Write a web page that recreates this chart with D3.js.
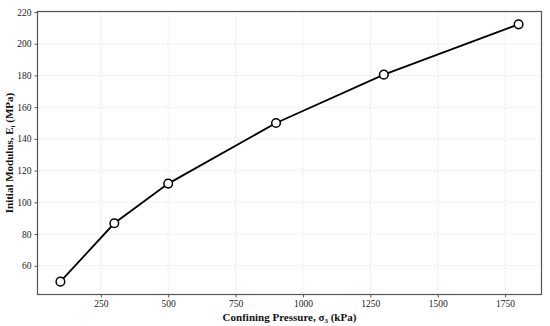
<!DOCTYPE html>
<html>
<head>
<meta charset="utf-8">
<script src="https://cdn.jsdelivr.net/npm/d3@7"></script>
<style>
  html, body { margin: 0; padding: 0; background: #fff; }
  svg { display: block; font-family: "Liberation Serif", "Times New Roman", serif; }
</style>
</head>
<body>
<div id="chart"></div>
<script>
const pressure = [100, 300, 500, 900, 1300, 1800];
const modulus = [50, 86.8, 111.8, 150, 180.5, 212.2];
const xTicks = [250, 500, 750, 1000, 1250, 1500, 1750];
const yTicks = [60, 80, 100, 120, 140, 160, 180, 200, 220];

const W = 550, H = 326;
const margin = { top: 11.5, right: 8.5, bottom: 31.5, left: 37.5 };
const width = W - margin.left - margin.right;
const height = H - margin.top - margin.bottom;

const svg = d3.select('#chart').append('svg')
  .attr('width', W)
  .attr('height', H);

const g = svg.append('g')
  .attr('transform', `translate(${margin.left},${margin.top})`);

// 5% padding around the data range, like matplotlib's default margins
const xPad = (d3.max(pressure) - d3.min(pressure)) * 0.05;
const yPad = (d3.max(modulus) - d3.min(modulus)) * 0.05;

const x = d3.scaleLinear()
  .domain([d3.min(pressure) - xPad, d3.max(pressure) + xPad])
  .range([0, width]);

const y = d3.scaleLinear()
  .domain([d3.min(modulus) - yPad, d3.max(modulus) + yPad])
  .range([height, 0]);

// grid
g.append('g')
  .selectAll('line')
  .data(xTicks)
  .enter().append('line')
  .attr('x1', d => x(d)).attr('x2', d => x(d))
  .attr('y1', 0).attr('y2', height)
  .attr('stroke', '#dedede')
  .attr('stroke-width', 0.8)
  .attr('stroke-dasharray', '2,2');

g.append('g')
  .selectAll('line')
  .data(yTicks)
  .enter().append('line')
  .attr('x1', 0).attr('x2', width)
  .attr('y1', d => y(d)).attr('y2', d => y(d))
  .attr('stroke', '#dedede')
  .attr('stroke-width', 0.8)
  .attr('stroke-dasharray', '2,2');

// axes
g.append('g')
  .attr('transform', `translate(0,${height})`)
  .call(d3.axisBottom(x).tickValues(xTicks).tickFormat(d3.format('d')).tickSize(3).tickPadding(3))
  .call(a => a.select('.domain').remove())
  .call(a => a.selectAll('.tick line').attr('stroke', '#555'))
  .call(a => a.selectAll('.tick text')
    .attr('fill', '#222')
    .style('font-family', '"Liberation Serif", serif')
    .style('font-size', '9.5px'));

g.append('g')
  .call(d3.axisLeft(y).tickValues(yTicks).tickFormat(d3.format('d')).tickSize(3).tickPadding(3))
  .call(a => a.select('.domain').remove())
  .call(a => a.selectAll('.tick line').attr('stroke', '#555'))
  .call(a => a.selectAll('.tick text')
    .attr('fill', '#222')
    .style('font-family', '"Liberation Serif", serif')
    .style('font-size', '9.5px'));

// frame
g.append('rect')
  .attr('x', 0).attr('y', 0)
  .attr('width', width).attr('height', height)
  .attr('fill', 'none')
  .attr('stroke', '#555')
  .attr('stroke-width', 1.2);

// line + markers
const pts = pressure.map((p, i) => ({ p, m: modulus[i] }));

const line = d3.line()
  .x(d => x(d.p))
  .y(d => y(d.m));

g.append('path')
  .datum(pts)
  .attr('fill', 'none')
  .attr('stroke', '#000')
  .attr('stroke-width', 1.8)
  .attr('d', line);

g.selectAll('.pt')
  .data(pts)
  .enter().append('circle')
  .attr('class', 'pt')
  .attr('cx', d => x(d.p))
  .attr('cy', d => y(d.m))
  .attr('r', 4.3)
  .attr('fill', '#fff')
  .attr('stroke', '#000')
  .attr('stroke-width', 1.5);

// axis titles
const xt = svg.append('text')
  .attr('x', margin.left + width / 2)
  .attr('y', H - 5)
  .attr('text-anchor', 'middle')
  .style('font-size', '11px')
  .style('font-weight', 'bold')
  .attr('fill', '#111');
xt.append('tspan').text('Confining Pressure, σ');
xt.append('tspan').attr('dy', 2).style('font-size', '7px').text('3');
xt.append('tspan').attr('dy', -2).text(' (kPa)');

const yt = svg.append('text')
  .attr('transform', `translate(13,${margin.top + height / 2}) rotate(-90)`)
  .attr('text-anchor', 'middle')
  .style('font-size', '11px')
  .style('font-weight', 'bold')
  .attr('fill', '#111');
yt.append('tspan').text('Initial Modulus, E');
yt.append('tspan').attr('dy', 2).style('font-size', '7px').text('i');
yt.append('tspan').attr('dy', -2).text(' (MPa)');
</script>
</body>
</html>
